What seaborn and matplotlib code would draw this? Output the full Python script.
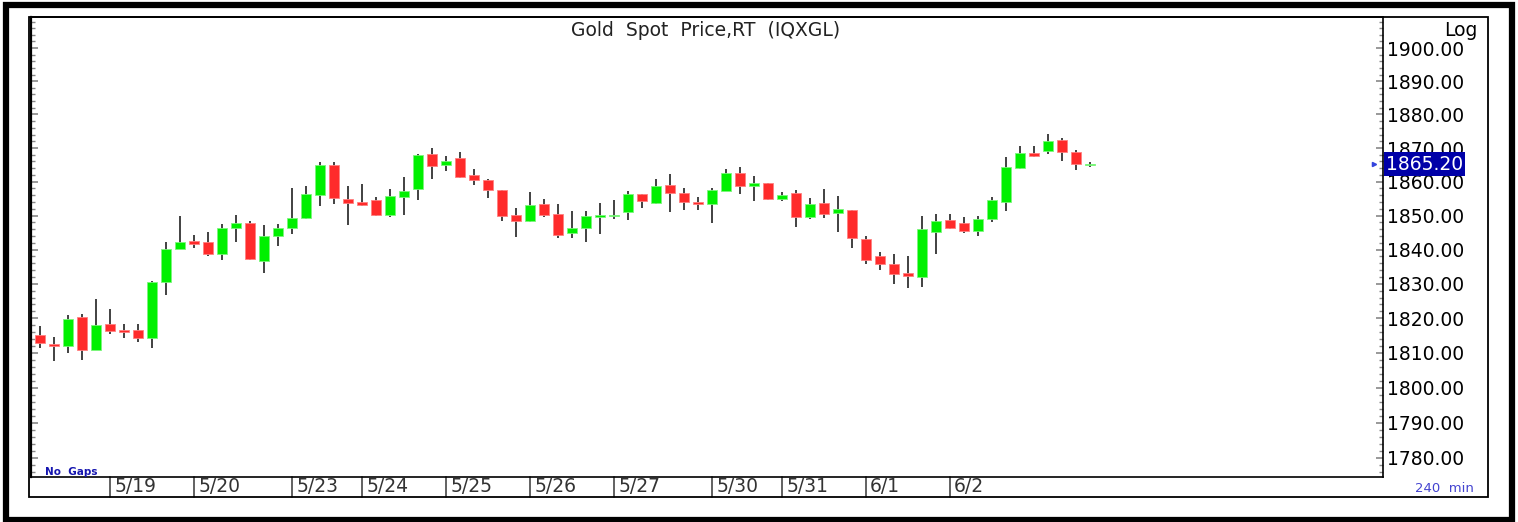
import numpy as np
import pandas as pd
import matplotlib
matplotlib.use("Agg")
import matplotlib.pyplot as plt
import matplotlib.transforms as mtransforms
from matplotlib.patches import Rectangle
from matplotlib.ticker import FixedLocator, FormatStrFormatter, NullFormatter
import seaborn as sns

# 240 min bars, Gold spot (IQXGL)
opens = [1815.3, 1812.6, 1812.0, 1820.3, 1810.7, 1818.3, 1816.7, 1816.5, 1814.2, 1830.4,
         1840.1, 1842.6, 1842.3, 1838.7, 1846.2, 1847.7, 1836.7, 1844.0, 1846.2, 1849.4,
         1856.2, 1865.0, 1854.9, 1854.0, 1854.6, 1850.2, 1855.6, 1857.7, 1868.2, 1864.8,
         1866.9, 1861.9, 1860.6, 1857.4, 1850.2, 1848.4, 1853.5, 1850.5, 1844.8, 1846.4,
         1849.7, 1849.8, 1851.0, 1856.5, 1853.8, 1859.1, 1856.7, 1853.9, 1853.4, 1857.3,
         1862.5, 1858.8, 1859.5, 1854.8, 1856.7, 1849.6, 1853.7, 1850.9, 1851.7, 1843.0,
         1838.0, 1835.9, 1833.2, 1832.1, 1845.1, 1848.7, 1847.7, 1845.5, 1848.9, 1854.1,
         1864.1, 1868.4, 1869.2, 1872.4, 1868.8, 1865.0]
highs = [1817.8, 1814.5, 1820.9, 1821.3, 1825.6, 1822.8, 1818.3, 1818.4, 1830.8, 1842.3,
         1850.0, 1844.3, 1845.3, 1847.5, 1850.2, 1848.5, 1847.3, 1847.5, 1858.2, 1858.7,
         1865.9, 1865.9, 1858.7, 1859.2, 1855.5, 1857.8, 1861.4, 1868.2, 1870.0, 1867.6,
         1868.8, 1863.9, 1860.9, 1857.6, 1852.1, 1856.9, 1854.9, 1853.3, 1851.3, 1851.4,
         1853.8, 1854.6, 1857.3, 1856.5, 1860.9, 1862.3, 1858.0, 1855.4, 1858.1, 1863.7,
         1864.4, 1861.7, 1859.5, 1856.9, 1857.5, 1855.1, 1857.7, 1855.9, 1851.7, 1844.1,
         1839.2, 1838.7, 1838.0, 1849.9, 1850.6, 1850.6, 1849.7, 1849.8, 1855.6, 1867.3,
         1870.6, 1870.6, 1874.2, 1872.9, 1869.5, 1865.8]
lows = [1811.3, 1807.7, 1809.9, 1807.9, 1810.7, 1815.5, 1814.3, 1813.2, 1811.3, 1826.8,
        1840.1, 1840.5, 1838.0, 1836.9, 1842.3, 1837.0, 1833.1, 1841.2, 1844.5, 1849.0,
        1852.8, 1853.3, 1847.3, 1852.8, 1849.9, 1849.6, 1850.2, 1854.6, 1860.7, 1863.2,
        1861.2, 1859.1, 1855.3, 1848.4, 1843.8, 1848.0, 1849.7, 1843.5, 1843.5, 1842.1,
        1844.5, 1849.0, 1848.6, 1852.1, 1853.3, 1851.1, 1851.6, 1851.7, 1847.7, 1857.3,
        1856.5, 1854.3, 1854.6, 1854.4, 1846.5, 1848.9, 1849.3, 1845.1, 1840.6, 1835.7,
        1833.9, 1830.1, 1828.7, 1829.0, 1838.7, 1846.1, 1845.0, 1844.1, 1848.2, 1851.3,
        1863.8, 1867.2, 1868.2, 1866.1, 1863.5, 1864.3]
closes = [1812.8, 1811.9, 1819.8, 1810.9, 1818.1, 1816.2, 1816.0, 1814.2, 1830.6, 1840.2,
          1842.3, 1841.5, 1838.7, 1846.4, 1847.7, 1837.3, 1843.9, 1846.4, 1849.4, 1856.5,
          1865.0, 1855.2, 1853.8, 1853.1, 1850.3, 1855.7, 1857.2, 1867.9, 1864.6, 1866.0,
          1861.3, 1860.4, 1857.5, 1849.8, 1848.4, 1853.1, 1850.2, 1844.3, 1846.4, 1849.8,
          1850.2, 1850.2, 1856.5, 1854.3, 1858.8, 1856.7, 1854.1, 1853.4, 1857.4, 1862.7,
          1858.6, 1859.7, 1854.8, 1856.0, 1849.6, 1853.5, 1850.5, 1851.9, 1843.3, 1837.0,
          1835.7, 1833.0, 1832.4, 1846.1, 1848.5, 1846.4, 1845.5, 1848.9, 1854.7, 1864.3,
          1868.6, 1867.7, 1872.1, 1868.7, 1865.2, 1865.2]
last_price = 1865.20

day_labels = ['5/19', '5/20', '5/23', '5/24', '5/25', '5/26', '5/27', '5/30', '5/31', '6/1', '6/2']
day_starts = [5, 11, 18, 23, 29, 35, 41, 48, 53, 59, 65]
price_ticks = [1780, 1790, 1800, 1810, 1820, 1830, 1840, 1850, 1860, 1870, 1880, 1890, 1900]

df = pd.DataFrame({'open': opens, 'high': highs, 'low': lows, 'close': closes})
df['idx'] = np.arange(len(df))
df['up'] = df['close'] > df['open']
df.loc[len(df) - 1, 'up'] = True
df['body_lo'] = df[['open', 'close']].min(axis=1)
df['body_h'] = (df['open'] - df['close']).abs().clip(lower=0.35)

sns.set_style('white')
plt.rcParams['font.family'] = ['DejaVu Sans']

W, H = 1518, 522
fig = plt.figure(figsize=(W / 100, H / 100), dpi=100)
ax = fig.add_axes([31 / W, 45 / H, 1352 / W, 460 / H])

# candles
ax.vlines(df['idx'], df['low'], df['high'], color='#333333', lw=1.3, zorder=1)
body_col = np.where(df['up'], '#00F000', '#FF2B2B')
edge_col = np.where(df['up'], '#7CF57C', '#FF8080')
ax.bar(df['idx'], df['body_h'], bottom=df['body_lo'], width=0.78,
       color=body_col, edgecolor=edge_col, lw=0.6, zorder=2)

ax.set_yscale('log')
ax.set_ylim(1774.6, 1909.4)
ax.set_xlim(-0.64, 95.93)
ax.set_xticks([])
ax.yaxis.set_major_locator(FixedLocator(price_ticks))
ax.yaxis.set_major_formatter(FormatStrFormatter('%.2f'))
ax.yaxis.set_minor_locator(FixedLocator(np.arange(1776, 1910, 2)))
ax.yaxis.set_minor_formatter(NullFormatter())
ax.tick_params(axis='y', which='both', left=True, right=True,
               labelleft=False, labelright=True, direction='in', color='#888888')
ax.tick_params(axis='y', which='major', length=5, width=1.2, labelsize=13.5, pad=3,
               labelcolor='black')
ax.tick_params(axis='y', which='minor', length=3, width=1)
for side in ['left', 'right', 'bottom', 'top']:
    ax.spines[side].set_color('black')
    ax.spines[side].set_linewidth(1.2)
ax.spines['left'].set_linewidth(1.6)

# last price marker
lp_trans = mtransforms.blended_transform_factory(ax.transAxes, ax.transData)
ax.text(1.0 + 3 / 1352, last_price, '1865.20', transform=lp_trans,
        ha='left', va='center', fontsize=13.5, color='white',
        bbox=dict(boxstyle='square,pad=0.12', fc='#0000A8', ec='none'), zorder=5)
ax.plot([(1374 - 31) / 1352], [last_price], marker='>', ms=3, color='#3344DD',
        transform=lp_trans, clip_on=False)

# date strip below the chart
strip = mtransforms.blended_transform_factory(ax.transData, fig.transFigure)
for pos, lab in zip(day_starts, day_labels):
    ax.plot([pos, pos], [45 / H, 25 / H], color='#555555', lw=1.3, transform=strip, clip_on=False)
    ax.text(pos + 0.3, 35 / H, lab, transform=strip, ha='left', va='center',
            fontsize=13.5, color='#333333')

# frames
fig.add_artist(Rectangle((29 / W, 25 / H), (1488 - 29) / W, (497 - 17) / H,
                         transform=fig.transFigure, fill=False, ec='black', lw=1.3))
fig.add_artist(Rectangle((6 / W, 2 / H), (1512 - 6) / W, (517 - 2) / H,
                         transform=fig.transFigure, fill=False, ec='black', lw=4.5))

# texts
fig.text(706 / W, (H - 30) / H, 'Gold  Spot  Price,RT  (IQXGL)', ha='center', va='center',
         fontsize=13.5, color='#222222')
fig.text(1478 / W, (H - 30) / H, 'Log', ha='right', va='center', fontsize=13.5, color='black')
fig.text(45 / W, (H - 472) / H, 'No  Gaps', ha='left', va='center', fontsize=7.5,
         fontweight='bold', color='#1515B0')
fig.text(1474 / W, (H - 488) / H, '240  min', ha='right', va='center', fontsize=9.5,
         color='#4444D0')

fig.savefig('out.png', dpi=100)
